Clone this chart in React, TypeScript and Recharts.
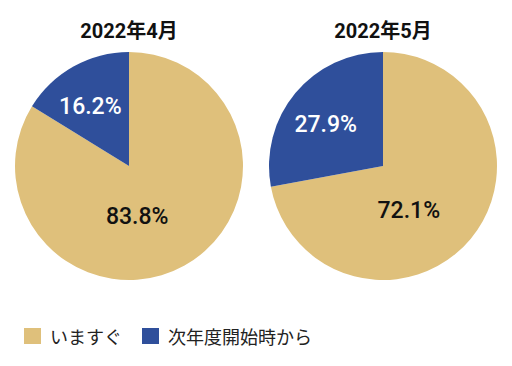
import { PieChart, Pie, Cell, Legend } from 'recharts';

const categories = ['いますぐ', '次年度開始時から'];
const months = ['2022年4月', '2022年5月'];
const aprilValues = [83.8, 16.2];
const mayValues = [72.1, 27.9];

const COLORS = ['#DFC07B', '#2F4F9B'];
const LABEL_COLORS = ['#111111', '#ffffff'];
const FONT = "Roboto, 'Noto Sans CJK JP', sans-serif";

const aprilData = categories.map((name, i) => ({ name, value: aprilValues[i] }));
const mayData = categories.map((name, i) => ({ name, value: mayValues[i] }));

const RAD = Math.PI / 180;

const renderLabel = (props: any) => {
  const { cx, cy, midAngle, outerRadius, value, index } = props;
  // big slice label sits lower, small slice label toward its middle
  const angle = midAngle + (index === 0 ? -20 : 4);
  const r = outerRadius * (index === 0 ? 0.45 : 0.62);
  const x = cx + r * Math.cos(-angle * RAD);
  const y = cy + r * Math.sin(-angle * RAD);
  return (
    <text
      x={x}
      y={y}
      fill={LABEL_COLORS[index]}
      textAnchor="middle"
      dominantBaseline="central"
      fontSize={23}
      fontWeight={500}
      fontFamily={FONT}
    >
      {value.toFixed(1)}%
    </text>
  );
};

const LegendContent = () => (
  <div style={{ display: 'flex', alignItems: 'center', fontFamily: FONT, fontSize: 18, color: '#222' }}>
    {categories.map((c, i) => (
      <div key={c} style={{ display: 'flex', alignItems: 'center', marginRight: 20 }}>
        <div style={{ width: 17, height: 16, background: COLORS[i], marginRight: 9 }} />
        <span>{c}</span>
      </div>
    ))}
  </div>
);

export default function App() {
  return (
    <div style={{ position: 'absolute', left: 0, top: 0, width: 512, height: 366, background: '#fff' }}>
      <PieChart width={512} height={366} margin={{ top: 0, right: 0, bottom: 0, left: 0 }}>
        <text x={129} y={31} textAnchor="middle" dominantBaseline="central" fontSize={20} fontWeight={700} fontFamily={FONT} fill="#111">
          {months[0]}
        </text>
        <text x={383} y={31} textAnchor="middle" dominantBaseline="central" fontSize={20} fontWeight={700} fontFamily={FONT} fill="#111">
          {months[1]}
        </text>
        <Pie
          data={aprilData}
          dataKey="value"
          cx={129}
          cy={166}
          outerRadius={114}
          startAngle={90}
          endAngle={-270}
          stroke="none"
          label={renderLabel}
          labelLine={false}
          isAnimationActive={false}
        >
          {aprilData.map((d, i) => (
            <Cell key={d.name} fill={COLORS[i]} />
          ))}
        </Pie>
        <Pie
          data={mayData}
          dataKey="value"
          cx={383}
          cy={166}
          outerRadius={114}
          startAngle={90}
          endAngle={-270}
          stroke="none"
          label={renderLabel}
          labelLine={false}
          isAnimationActive={false}
        >
          {mayData.map((d, i) => (
            <Cell key={d.name} fill={COLORS[i]} />
          ))}
        </Pie>
        <Legend
          content={<LegendContent />}
          wrapperStyle={{ position: 'absolute', left: 24, top: 323, width: 480 }}
        />
      </PieChart>
    </div>
  );
}
